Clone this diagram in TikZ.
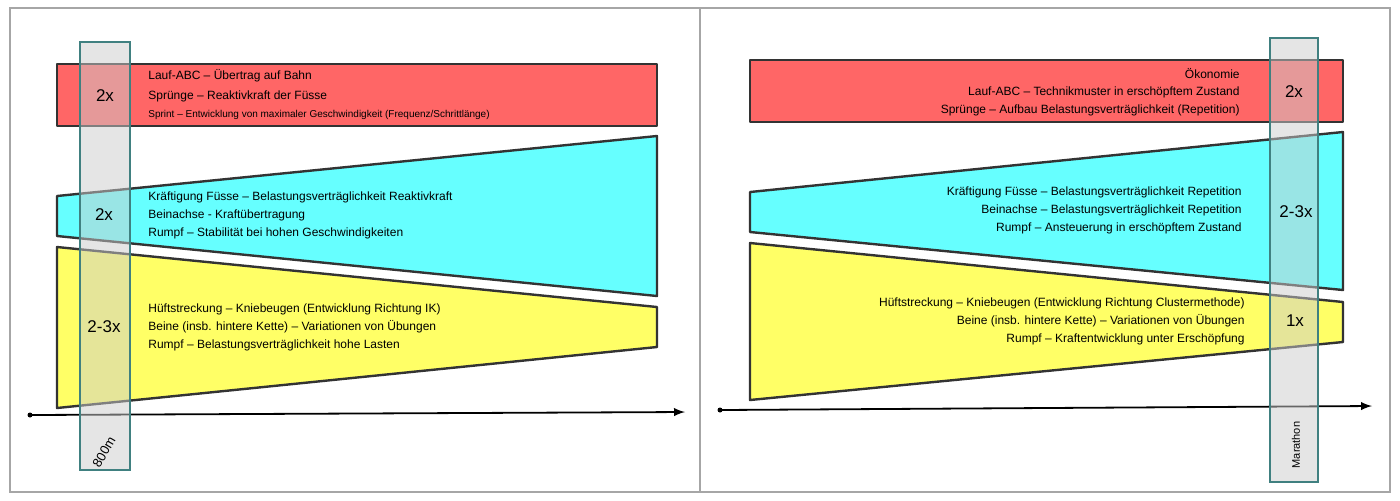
\documentclass[tikz,border=0pt]{standalone}
\usepackage{fontspec}
\setmainfont{Liberation Sans}
\definecolor{cred}{RGB}{255,102,102}
\definecolor{ccyan}{RGB}{102,255,255}
\definecolor{cyel}{RGB}{255,255,102}
\begin{document}
\begin{tikzpicture}[x=0.5pt,y=-0.5pt,
  block/.style={draw=black!80,line width=1.2pt,line join=round},
  band/.style={draw=teal!50!gray,line width=0.8pt,fill=gray!40,fill opacity=0.5},
  txt/.style={font=\fontsize{6}{7}\selectfont,inner sep=0},
  cnt/.style={font=\fontsize{8.5}{9}\selectfont,inner sep=0},
  axis/.style={line width=0.9pt,-latex}]
\useasboundingbox (0,0) rectangle (1400,500);
\draw[gray!70,line width=0.8pt] (10,8) rectangle (1390,492);
\draw[gray!70,line width=0.8pt] (700,8) -- (700,492);
% left
\draw[block,fill=cred] (57,64) rectangle (657,126);
\draw[block,fill=ccyan] (57,196) -- (657,136) -- (657,296) -- (57,236) -- cycle;
\draw[block,fill=cyel] (57,247) -- (657,307) -- (657,347) -- (57,408) -- cycle;
\fill (30,415) circle (2.5);
\coordinate (la) at (30,415); \coordinate (lb) at (685,412);
\draw[axis] (la) -- (lb);
\node[txt,anchor=west] (l1) at (148,76) {Lauf-ABC – Übertrag auf Bahn};
\node[txt,anchor=west] (l2) at (148,96) {Sprünge – Reaktivkraft der Füsse};
\node[txt,anchor=west,font=\fontsize{5}{6}\selectfont] (l3) at (148,115) {Sprint – Entwicklung von maximaler Geschwindigkeit (Frequenz/Schrittlänge)};
\node[txt,anchor=west] (l4) at (148,197) {Kräftigung Füsse – Belastungsverträglichkeit Reaktivkraft};
\node[txt,anchor=west] (l5) at (148,215) {Beinachse - Kraftübertragung};
\node[txt,anchor=west] (l6) at (148,233) {Rumpf – Stabilität bei hohen Geschwindigkeiten};
\node[txt,anchor=west] (l7) at (148,309) {Hüftstreckung – Kniebeugen (Entwicklung Richtung IK)};
\node[txt,anchor=west] (l8) at (148,327) {Beine (insb. hintere Kette) – Variationen von Übungen};
\node[txt,anchor=west] (l9) at (148,345) {Rumpf – Belastungsverträglichkeit hohe Lasten};
\draw[band] (80,42) rectangle (130,470);
\node[cnt] (c1) at (105,96) {2x};
\node[cnt] (c2) at (104,215) {2x};
\node[cnt] (c3) at (104,327) {2-3x};
\node[txt,font=\fontsize{6.5}{7}\selectfont,rotate=60] (m1) at (104,452) {800m};
% right
\draw[block,fill=cred] (750,60) rectangle (1343,122);
\draw[block,fill=ccyan] (750,192) -- (1343,132) -- (1343,290) -- (750,232) -- cycle;
\draw[block,fill=cyel] (750,243) -- (1343,302) -- (1343,342) -- (750,400) -- cycle;
\fill (720,410) circle (2.5);
\coordinate (ra) at (720,410); \coordinate (rb) at (1372,406);
\draw[axis] (ra) -- (rb);
\node[txt,anchor=east] (r1) at (1240,74) {Ökonomie};
\node[txt,anchor=east] (r2) at (1240,92) {Lauf-ABC – Technikmuster in erschöpftem Zustand};
\node[txt,anchor=east] (r3) at (1240,110) {Sprünge – Aufbau Belastungsverträglichkeit (Repetition)};
\node[txt,anchor=east] (r4) at (1242,192) {Kräftigung Füsse – Belastungsverträglichkeit Repetition};
\node[txt,anchor=east] (r5) at (1242,210) {Beinachse – Belastungsverträglichkeit Repetition};
\node[txt,anchor=east] (r6) at (1242,228) {Rumpf – Ansteuerung in erschöpftem Zustand};
\node[txt,anchor=east] (r7) at (1245,303) {Hüftstreckung – Kniebeugen (Entwicklung Richtung Clustermethode)};
\node[txt,anchor=east] (r8) at (1245,321) {Beine (insb. hintere Kette) – Variationen von Übungen};
\node[txt,anchor=east] (r9) at (1245,339) {Rumpf – Kraftentwicklung unter Erschöpfung};
\draw[band] (1270,38) rectangle (1318,482);
\node[cnt] (c4) at (1294,92) {2x};
\node[cnt] (c5) at (1296,212) {2-3x};
\node[cnt] (c6) at (1295,321) {1x};
\node[txt,font=\fontsize{5.5}{6}\selectfont,rotate=90] (m2) at (1296,445) {Marathon};
\end{tikzpicture}
\end{document}
